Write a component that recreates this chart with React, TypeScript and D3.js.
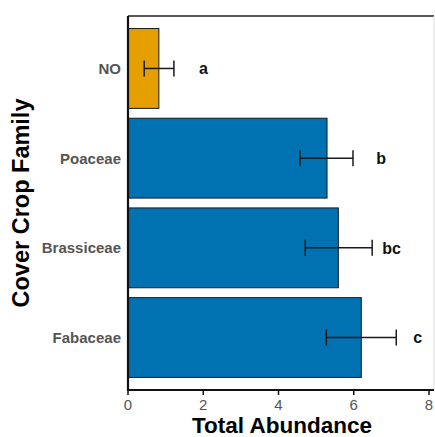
import React from "react";
import * as d3 from "d3";

const categories = ["NO", "Poaceae", "Brassiceae", "Fabaceae"];
const values = [0.82, 5.29, 5.59, 6.2];
const errLow = [0.43, 4.57, 4.71, 5.27];
const errHigh = [1.22, 5.98, 6.49, 7.13];
const letters = ["a", "b", "bc", "c"];
const letterX = [1.89, 6.6, 6.76, 7.58];
const colors = ["#E69F00", "#0072B2", "#0072B2", "#0072B2"];
const xTicks = [0, 2, 4, 6, 8];

export default function App() {
  const W = 435, H = 437;
  const left = 128, right = 429, top = 16, bottom = 390;
  const x = d3.scaleLinear().domain([0, 8]).range([left, right]);
  const y = d3.scaleBand<string>().domain(categories).range([top, bottom]).paddingInner(0.11).paddingOuter(0.14);
  const font = "'Liberation Sans', Arial, Helvetica, sans-serif";
  return (
    <svg width={W} height={H} style={{ position: "absolute", left: 0, top: 0 }} fontFamily={font}>
      <rect x={0} y={0} width={W} height={H} fill="#fff" />
      <line x1={left} x2={434} y1={top} y2={top} stroke="#222" strokeWidth={1.3} />
      <line x1={434} x2={434} y1={top} y2={bottom} stroke="#ddd" strokeWidth={1} />
      {categories.map((c, i) => {
        const yc = (y(c) as number) + y.bandwidth() / 2;
        return (
          <g key={c}>
            <rect x={x(0)} y={y(c)} width={x(values[i]) - x(0)} height={y.bandwidth()} fill={colors[i]} stroke="#1a1a1a" strokeWidth={1} />
            <line x1={x(errLow[i])} x2={x(errHigh[i])} y1={yc} y2={yc} stroke="#1a1a1a" strokeWidth={1.5} />
            <line x1={x(errLow[i])} x2={x(errLow[i])} y1={yc - 8} y2={yc + 8} stroke="#1a1a1a" strokeWidth={1.5} />
            <line x1={x(errHigh[i])} x2={x(errHigh[i])} y1={yc - 8} y2={yc + 8} stroke="#1a1a1a" strokeWidth={1.5} />
            <text x={x(letterX[i])} y={yc} dy="0.36em" fontSize={16} fontWeight="bold" fill="#111">{letters[i]}</text>
            <text x={left - 7} y={yc} dy="0.36em" textAnchor="end" fontSize={15} fontWeight="bold" fill="#555">{c}</text>
          </g>
        );
      })}
      <line x1={left} x2={left} y1={top} y2={bottom + 1} stroke="#111" strokeWidth={2.2} />
      <line x1={left - 1} x2={434} y1={bottom} y2={bottom} stroke="#111" strokeWidth={2.2} />
      {xTicks.map((t) => (
        <g key={t}>
          <line x1={x(t)} x2={x(t)} y1={bottom} y2={bottom + 5} stroke="#111" strokeWidth={1.5} />
          <text x={x(t)} y={bottom + 20} textAnchor="middle" fontSize={15} fill="#555">{t}</text>
        </g>
      ))}
      <text x={282} y={433} textAnchor="middle" fontSize={22.5} fontWeight="bold" fill="#000">Total Abundance</text>
      <text transform={`translate(29, 203) rotate(-90)`} textAnchor="middle" fontSize={23.5} fontWeight="bold" fill="#000">Cover Crop Family</text>
    </svg>
  );
}
